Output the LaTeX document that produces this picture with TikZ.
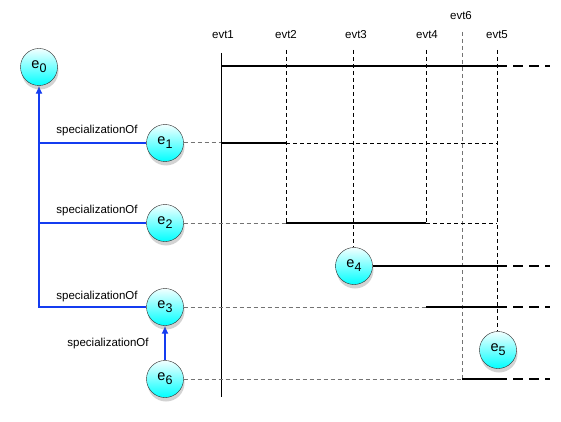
\documentclass[tikz,border=0pt]{standalone}
\usepackage{fontspec}
\setmainfont{Liberation Sans}
\usetikzlibrary{shadows,arrows.meta}
\definecolor{specblue}{RGB}{20,60,240}
\pgfdeclarelayer{front}
\pgfsetlayers{main,front}
\newcommand{\entlabel}[1]{e\raisebox{-.5ex}{\fontsize{12.5}{12.5}\selectfont #1}}
\begin{document}
\begin{tikzpicture}[x=1pt,y=-1pt,
    font=\fontsize{11.5}{13}\selectfont,
    ent/.style={circle,draw=black!85,thin,minimum size=37pt,inner sep=0pt,
        top color=cyan!5,bottom color=cyan,font=\fontsize{14.5}{14.5}\selectfont,
        drop shadow={opacity=.35,shadow xshift=1pt,shadow yshift=-4pt}},
    spec/.style={draw=specblue,color=specblue,line width=1.2pt},
    life/.style={line width=2pt},
    tail/.style={line width=2pt,dash pattern=on 10pt off 6pt},
    guide/.style={line width=.7pt,dash pattern=on 4pt off 3pt},
    lead/.style={black!55,line width=1pt,dash pattern=on 4pt off 3pt}]
    \useasboundingbox (0,0) rectangle (561,422);
    \begin{pgfonlayer}{front}
    \node[ent] (e0) at (39,67) {\entlabel{0}}; % <<< thực thể
    \node[ent] (e1) at (165,143) {\entlabel{1}};
    \node[ent] (e2) at (165,223) {\entlabel{2}};
    \node[ent] (e3) at (165,307) {\entlabel{3}};
    \node[ent] (e6) at (165,379) {\entlabel{6}};
    \node[ent] (e4) at (354,266) {\entlabel{4}};
    \node[ent] (e5) at (498,350) {\entlabel{5}};
    \end{pgfonlayer}
    % <<< specializationOf
    \draw[spec,-{Latex[length=8pt,width=7pt]}] (e3.west)-|(e0.south);
    \draw[spec] (e1.west)--(e1.west-|e0.south);
    \draw[spec] (e2.west)--(e2.west-|e0.south);
    \draw[spec,-{Latex[length=8pt,width=7pt]}] (e6.north)--(e3.south);
    \node (s1) at (97,131) {specializationOf};
    \node (s2) at (97,211) {specializationOf};
    \node (s3) at (97,297) {specializationOf};
    \node (s6) at (108,344) {specializationOf};
    \node (evt1) at (223,35) {evt1}; % <<< sự kiện
    \node (evt2) at (286,35) {evt2};
    \node (evt3) at (356,35) {evt3};
    \node (evt4) at (427,35) {evt4};
    \node (evt6) at (461,16) {evt6};
    \node (evt5) at (497,35) {evt5};
    \coordinate (g1) at (221,53);
    \coordinate (g2) at (286,50);
    \coordinate (g3) at (353,50);
    \coordinate (g4) at (426,50);
    \coordinate (g6) at (462,32);
    \coordinate (g5) at (497,50);
    \coordinate (gend) at (550,50);
    \coordinate (r0) at (0,66);
    % <<< đường dọc
    \draw[line width=.9pt] (g1)--++(0,344);
    \draw[guide] (g2)--(g2|-e2);
    \draw[guide] (g3)--(g3|-e4.north);
    \draw[guide] (g4)--(g4|-e2);
    \draw[guide,black!55] (g6)--(g6|-e6);
    \draw[guide] (g5)--(g5|-e5.north);
    % <<< đường ngang
    \draw[life] (r0-|g1)--(r0-|g5);
    \draw[tail] (r0-|g5)--(r0-|gend);
    \draw[lead] (e1.east)--(e1-|g1);
    \draw[life] (e1-|g1)--(e1-|g2);
    \draw[guide] (e1-|g2)--(e1-|g5);
    \draw[lead] (e2.east)--(e2-|g2);
    \draw[life] (e2-|g2)--(e2-|g4);
    \draw[guide] (e2-|g4)--(e2-|g5);
    \draw[life] (e4.east)--(e4-|g5);
    \draw[tail] (e4-|g5)--(e4-|gend);
    \draw[lead] (e3.east)--(e3-|g4);
    \draw[life] (e3-|g4)--(e3-|g5);
    \draw[tail] (e3-|g5)--(e3-|gend);
    \draw[lead] (e6.east)--(e6-|g6);
    \draw[life] (e6-|g6)--(e6-|g5);
    \draw[tail] (e6-|g5)--(e6-|gend);
\end{tikzpicture}
\end{document}
